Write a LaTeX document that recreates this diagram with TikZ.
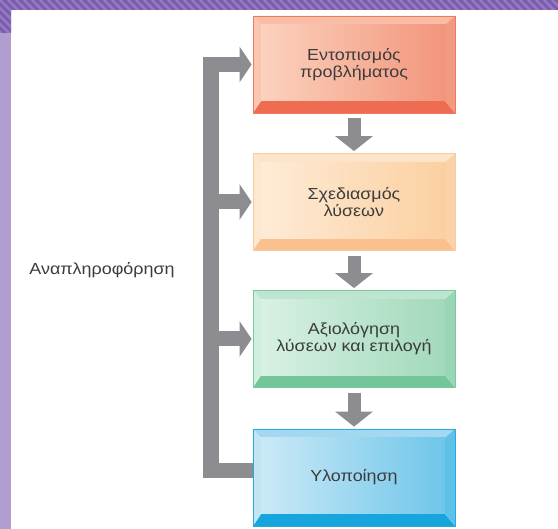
\documentclass[tikz,border=0pt]{standalone}
\usepackage{fontspec}
\setmainfont{Liberation Sans}[FakeStretch=1.12]
\usetikzlibrary{arrows.meta}
\definecolor{pdark}{HTML}{7B5BAC}
\definecolor{plight}{HTML}{9378C2}
\definecolor{pband}{HTML}{B19ED0}
\definecolor{garr}{HTML}{8D8D91}
\definecolor{txt}{HTML}{3C3C3C}
% box 1 red
\definecolor{ra}{HTML}{EE7A5E}\definecolor{rt}{HTML}{F9BCA5}\definecolor{rl}{HTML}{F9C6B0}
\definecolor{rr}{HTML}{F29A80}\definecolor{rb}{HTML}{EE6D52}\definecolor{rfl}{HTML}{FBD2BE}\definecolor{rfr}{HTML}{F3957C}
% box 2 orange
\definecolor{oa}{HTML}{F8CBA2}\definecolor{ot}{HTML}{FDE3C8}\definecolor{ol}{HTML}{FDE7CF}
\definecolor{or}{HTML}{FBD2A8}\definecolor{ob}{HTML}{F9C18D}\definecolor{ofl}{HTML}{FEEBD6}\definecolor{ofr}{HTML}{FBD0A0}
% box 3 green
\definecolor{ga}{HTML}{7CC9A0}\definecolor{gt}{HTML}{BDE5CF}\definecolor{gl}{HTML}{D0EFDF}
\definecolor{gr}{HTML}{98D6B5}\definecolor{gb}{HTML}{74C599}\definecolor{gfl}{HTML}{D8F1E4}\definecolor{gfr}{HTML}{A2D9BB}
% box 4 blue
\definecolor{ba}{HTML}{2BA9DC}\definecolor{bt}{HTML}{A3D8F0}\definecolor{bl}{HTML}{C2E5F5}
\definecolor{br}{HTML}{5EC1E8}\definecolor{bb}{HTML}{16A5DC}\definecolor{bfl}{HTML}{CBE9F6}\definecolor{bfr}{HTML}{6FC6EA}
\tikzset{
  bevel/.style n args={7}{draw=#1, line width=0.8pt, minimum width=202pt, minimum height=97pt,
    inner sep=0pt, align=center, text=txt, font=\fontsize{16}{17}\selectfont,
    path picture={
      \path (path picture bounding box.north west) coordinate (pNW)
            (path picture bounding box.north east) coordinate (pNE)
            (path picture bounding box.south west) coordinate (pSW)
            (path picture bounding box.south east) coordinate (pSE);
      \path ([shift={(8pt,-9pt)}]pNW) coordinate (iNW)
            ([shift={(-10pt,12pt)}]pSE) coordinate (iSE);
      \fill[#2] (pNW) -- (pNE) -- (iSE |- iNW) -- (iNW) -- cycle;
      \fill[#5] (pSW) -- (pSE) -- (iSE) -- (iNW |- iSE) -- cycle;
      \fill[#3] (pNW) -- (iNW) -- (iNW |- iSE) -- (pSW) -- cycle;
      \fill[#4] (pNE) -- (pSE) -- (iSE) -- (iSE |- iNW) -- cycle;
      \shade[left color=#6, right color=#7] (iNW) rectangle (iSE);
    }},
  downarrow/.style={draw=garr, line width=13pt, -{Triangle[width=37pt,length=15pt]},
    shorten <=5pt, shorten >=2pt},
  sidearrow/.style={draw=garr, line width=15pt, -{Triangle[width=35pt,length=12pt]},
    shorten >=1pt},
  feedback/.style={draw=garr, line width=15.5pt, line join=miter,
    -{Triangle[width=35pt,length=12pt]}, shorten >=1pt},
  lbl/.style={text=txt, font=\fontsize{16}{17}\selectfont, inner sep=0pt}
}
\begin{document}
\begin{tikzpicture}[x=1pt,y=-1pt]
\useasboundingbox (0,0) rectangle (558,529);
\fill[white] (0,0) rectangle (558,529);
% purple frame
\fill[pband] (0,33) rectangle (11,529);
\begin{scope}
  \clip (0,0) rectangle (558,10) (0,0) rectangle (11,33);
  \fill[pdark] (0,0) rectangle (558,33);
  \foreach \i in {-48,-40,...,560} \draw[plight, line width=2.6pt] (\i,0) -- ++(40,40);
\end{scope}
% boxes
\node[bevel={ra}{rt}{rl}{rr}{rb}{rfl}{rfr}] (b1) at (354,64.5) {Εντοπισμός\\προβλήματος};
\node[bevel={oa}{ot}{ol}{or}{ob}{ofl}{ofr}] (b2) at (354,202) {Σχεδιασμός\\λύσεων};
\node[bevel={ga}{gt}{gl}{gr}{gb}{gfl}{gfr}] (b3) at (354,339) {Αξιολόγηση\\λύσεων και επιλογή};
\node[bevel={ba}{bt}{bl}{br}{bb}{bfl}{bfr}] (b4) at (354,477.5) {Υλοποίηση};
% flow arrows
\draw[downarrow] (b1.south) -- (b2.north);
\draw[downarrow] (b2.south) -- (b3.north);
\draw[downarrow] (b3.south) -- (b4.north);
% feedback
\draw[feedback] (b4.west |- 0,470.5) -- (211,470.5) -- (211,0 |- b1.west) -- (b1.west);
\draw[sidearrow] (211,0 |- b2.west) -- (b2.west);
\draw[sidearrow] (211,0 |- b3.west) -- (b3.west);
\node[lbl] (fb) at (102,270) {Αναπληροφόρηση};
\end{tikzpicture}
\end{document}
